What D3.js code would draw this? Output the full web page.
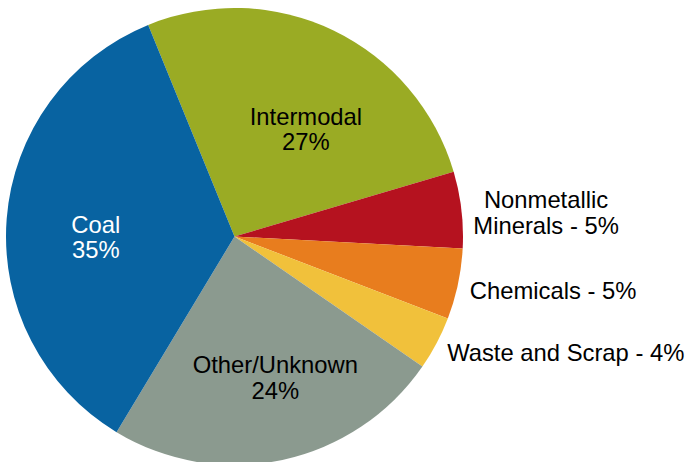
<!DOCTYPE html>
<html>
<head>
<meta charset="utf-8">
<script src="https://cdn.jsdelivr.net/npm/d3@7"></script>
<style>
  body { margin: 0; background: #fff; }
  svg text { font-family: "Liberation Sans", Arial, sans-serif; }
</style>
</head>
<body>
<script>
// data (share of total, clockwise from the top)
var categories = ["Intermodal", "Nonmetallic Minerals", "Chemicals", "Waste and Scrap", "Other/Unknown", "Coal"];
var shares = [26.6, 5.4, 5.0, 3.8, 24.0, 35.2];
var labelLines = [["Intermodal", "27%"], ["Nonmetallic", "Minerals - 5%"], ["Chemicals - 5%"], ["Waste and Scrap - 4%"], ["Other/Unknown", "24%"], ["Coal", "35%"]];
var colors = ["#9aab24", "#b5121f", "#e87d1e", "#f1c13b", "#8b9a8f", "#0863a1"];
var outside = [false, true, true, true, false, false];

var width = 687, height = 462;
var cx = 234.5, cy = 236.5, radius = 228.5;
var fontSize = 23.8;
var lineH = 25.5;

var rows = categories.map(function(c, i) {
  return { name: c, value: shares[i], lines: labelLines[i], color: colors[i], outside: outside[i] };
});

var svg = d3.select("body").append("svg")
  .attr("width", width)
  .attr("height", height);

var pie = d3.pie()
  .sort(null)
  .value(function(d) { return d.value; })
  .startAngle(-22.2 * Math.PI / 180)
  .endAngle((360 - 22.2) * Math.PI / 180);

var arc = d3.arc().innerRadius(0).outerRadius(radius);
var labelArc = d3.arc().innerRadius(radius * 0.6).outerRadius(radius * 0.6);

var g = svg.append("g").attr("transform", "translate(" + cx + "," + cy + ")");
var slices = pie(rows);

g.selectAll("path.slice")
  .data(slices)
  .enter().append("path")
  .attr("class", "slice")
  .attr("d", arc)
  .attr("fill", function(d) { return d.data.color; });

// Excel-ish nudges for the labels that sit inside the slices
var nudge = { "Intermodal": [12, 16], "Coal": [-2, 11], "Other/Unknown": [12, 7] };

function blockY(lines) { // offset of first baseline from the block's vertical centre
  return -((lines.length - 1) * lineH) / 2 + fontSize * 0.36;
}

slices.forEach(function(d) {
  var lines = d.data.lines;
  var x, y, anchor;
  if (d.data.outside) {
    var mid = (d.startAngle + d.endAngle) / 2;
    var r = radius + 12;
    x = Math.sin(mid) * r;
    y = -Math.cos(mid) * r + 4;
    anchor = "start";
  } else {
    var c = labelArc.centroid(d);
    var n = nudge[d.data.name] || [0, 0];
    x = c[0] + n[0]; y = c[1] + n[1];
    anchor = "middle";
  }
  var t = g.append("text")
    .attr("font-size", fontSize)
    .attr("fill", d.data.name === "Coal" ? "#fff" : "#000");
  if (d.data.outside && lines.length > 1) {
    // two line outside label: centred block, left edge at the anchor point
    t.attr("text-anchor", "middle");
    var tmp = t.append("tspan").text(lines[1]);
    var bw = tmp.node().getComputedTextLength();
    tmp.remove();
    x = x + bw / 2;
  } else {
    t.attr("text-anchor", anchor);
  }
  lines.forEach(function(l, i) {
    t.append("tspan")
      .attr("x", x)
      .attr("y", y + blockY(lines) + i * lineH)
      .text(l);
  });
});
</script>
</body>
</html>
